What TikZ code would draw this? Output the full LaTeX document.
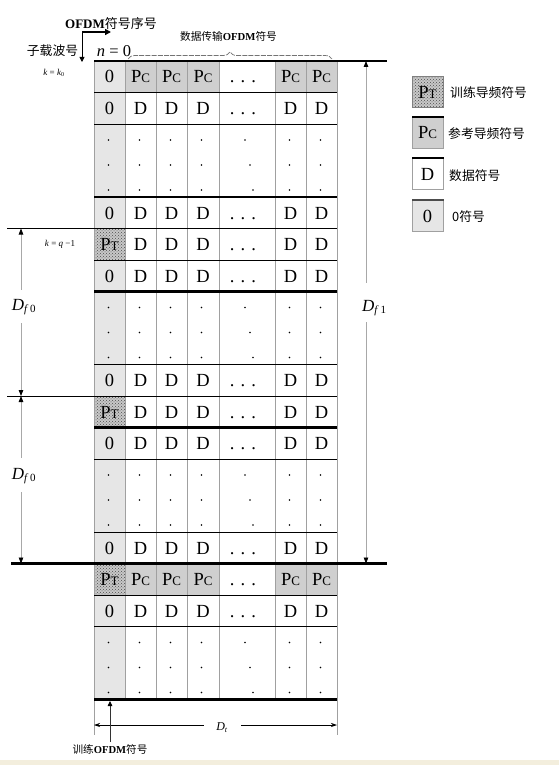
\documentclass[tikz,border=0pt]{standalone}
\usepackage{fontspec}
\setmainfont{Liberation Serif}
\newfontfamily\cjk{Noto Sans CJK SC}
\usetikzlibrary{patterns,arrows.meta,decorations.pathreplacing}
\definecolor{zerog}{HTML}{E6E6E6}
\definecolor{pcg}{HTML}{CFCFCF}
\definecolor{ptg}{HTML}{C8C8C8}
\definecolor{gridg}{HTML}{A0A0A0}
\definecolor{dimg}{HTML}{A8A8A8}
\definecolor{beigeband}{HTML}{F3EEDD}
\newcommand\symPT{P{\fontsize{13}{13}\selectfont T}}
\newcommand\symPC{P{\fontsize{13}{13}\selectfont C}}
\tikzset{
  cell/.style={font=\fontsize{18.5}{20}\selectfont, anchor=base, inner sep=0pt},
  vgrid/.style={gridg, line width=0.9pt},
  thinrule/.style={black, line width=0.9pt},
  thickrule/.style={black, line width=2.4pt},
  dimline/.style={dimg, line width=0.8pt},
  tipA/.tip={Triangle[length=6pt,width=4.5pt,black]},
  dimlabel/.style={font=\fontsize{17}{18}\selectfont, inner sep=0pt},
  cjklab/.style={font=\fontsize{12.8}{14}\selectfont\cjk, inner sep=0pt},
  legbox/.style={draw=gridg, line width=0.9pt, minimum width=31pt, minimum height=31pt, inner sep=0pt, font=\fontsize{18.5}{20}\selectfont},
  ptfill/.style={pattern=crosshatch dots, pattern color=black!70},
}
\begin{document}
\begin{tikzpicture}[x=1pt,y=-1pt]
\useasboundingbox (0,0) rectangle (559,765);
\fill[beigeband] (0,759.5) rectangle (559,765);
% ---------- fills ----------
\fill[zerog] (94,61) rectangle (125,699.5);
\foreach \t in {228.5,396,563.5}{
  \fill[ptg] (94,\t) rectangle (125,{\t+31.5});
  \fill[ptfill] (94,\t) rectangle (125,{\t+31.5});
}
\foreach \t in {61,563.5}{
  \foreach \a/\b in {125/219,275/337}
    \fill[pcg] (\a,\t) rectangle (\b,{\t+31.5});
}
% ---------- grid ----------
\foreach \x in {94,125,156,187,219,275,306,337}
  \draw[vgrid] (\x,61) -- (\x,699.5);
\draw[vgrid] (94,699.5) -- (94,735);
\draw[vgrid] (337,699.5) -- (337,735);
\foreach \y in {92.5,124,260,364.5,459,532,595,626.5}
  \draw[thinrule] (94,\y) -- (337,\y);
\draw[thinrule] (7,228.5) -- (337,228.5);
\draw[thinrule] (7,396) -- (337,396);
\foreach \y in {197,291.5,427.5,699.5}
  \draw[thickrule] (94,\y) -- (337,\y);
\draw[thickrule] (94,61) -- (387,61);
\draw[thickrule] (11,563.5) -- (387,563.5);
% ---------- cell texts ----------
\foreach \t/\a/\b [count=\i] in {61/0/\symPC, 92.5/0/D, 197/0/D, 228.5/\symPT/D, 260/0/D, 364.5/0/D, 396/\symPT/D, 427.5/0/D, 532/0/D, 563.5/\symPT/\symPC, 595/0/D}{
  \node[cell] (cell-\i-1) at (109.5,{\t+22}) {\a};
  \foreach \cx/\j in {140.5/2,171.5/3,203/4,290.5/6,321.5/7}
    \node[cell] (cell-\i-\j) at (\cx,{\t+22}) {\b};
  \node[cell] (cell-\i-5) at (243,{\t+22}) {.\,\,.\,\,.};
}
% ---------- vertical dots ----------
\foreach \d in {124,291.5,459,626.5}{
  \foreach \o in {16,41,66}{
    \foreach \cx in {108.5,139.5,170.5,201.5,289.5,320.5}
      \fill (\cx,{\d+\o}) circle (0.9);
  }
  \fill (245,{\d+16}) circle (0.9);
  \fill (250,{\d+41}) circle (0.9);
  \fill (253,{\d+66}) circle (0.9);
}
% ---------- top annotations ----------
\node[inner sep=0pt, font=\fontsize{13}{14}\selectfont] (seqlab) at (111,24) {\textbf{OFDM}{\cjk 符号序号}};
\coordinate (corner) at (82,32);
\coordinate (harrow) at (111,32);
\coordinate (varrow) at (82,62);
\draw[black, line width=1.8pt, -{Triangle[length=6pt,width=6pt,black]}] (corner) -- (harrow);
\draw[black, line width=0.8pt, -{Triangle[length=5pt,width=5pt,black]}] (corner) -- (varrow);
\node[cjklab] (subc) at (52.5,51) {子载波号};
\node[inner sep=0pt, font=\fontsize{9}{10}\selectfont] (kk0) at (54,73) {\textit{k} = \textit{k}\textsubscript{0}};
\node[inner sep=0pt, font=\fontsize{16.5}{17}\selectfont] (n0) at (114,51) {\textit{n} = 0};
\node[inner sep=0pt, font=\fontsize{10.7}{12}\selectfont] (datalab) at (228.5,36) {{\cjk 数据传输}\textbf{OFDM}{\cjk 符号}};
\coordinate (brL) at (128,59);
\coordinate (brR) at (332,59);
\draw[black!55, line width=0.7pt, dash pattern=on 5pt off 1.2pt, decorate, decoration={brace, amplitude=7pt}] (brL) -- (brR);
\node[inner sep=0pt, font=\fontsize{9}{10}\selectfont] (kq) at (60,244) {\textit{k} = \textit{q} \textminus 1};
% ---------- D_f0 ----------
\coordinate (a1) at (21,228.5); \coordinate (a2) at (21,290);
\coordinate (a3) at (21,323);   \coordinate (a4) at (21,396);
\coordinate (b1) at (21,396);   \coordinate (b2) at (21,458);
\coordinate (b3) at (21,492);   \coordinate (b4) at (21,563.5);
\draw[dimline, {tipA}-] (a1) -- (a2);
\draw[dimline, -{tipA}] (a3) -- (a4);
\draw[dimline, {tipA}-] (b1) -- (b2);
\draw[dimline, -{tipA}] (b3) -- (b4);
\node[dimlabel] (df0a) at (24,307) {\textit{D}\textsubscript{\fontsize{11}{11}\selectfont\textit{f}\,0}};
\node[dimlabel] (df0b) at (24,476) {\textit{D}\textsubscript{\fontsize{11}{11}\selectfont\textit{f}\,0}};
% ---------- D_f1 ----------
\coordinate (c1) at (366,61);  \coordinate (c2) at (366,283);
\coordinate (c3) at (366,322); \coordinate (c4) at (366,563.5);
\draw[dimline, {tipA}-] (c1) -- (c2);
\draw[dimline, -{tipA}] (c3) -- (c4);
\node[dimlabel, anchor=west] (df1) at (362,308) {\textit{D}\textsubscript{\fontsize{11}{11}\selectfont\textit{f}\,1}};
% ---------- D_t ----------
\coordinate (t1) at (94,725);  \coordinate (t2) at (204,725);
\coordinate (t3) at (241,725); \coordinate (t4) at (337,725);
\draw[black, line width=0.7pt, {Stealth[length=6pt,width=4pt,black]}-] (t1) -- (t2);
\draw[black, line width=0.7pt, -{Stealth[length=6pt,width=4pt,black]}] (t3) -- (t4);
\node[inner sep=0pt, font=\fontsize{12}{13}\selectfont\itshape] (dt) at (222,728) {D\textsubscript{\fontsize{8}{8}\selectfont t}};
% ---------- training symbol arrow ----------
\coordinate (trtop) at (110,701);
\coordinate (trbot) at (110,742);
\draw[black!80, line width=0.8pt, -{Triangle[length=5pt,width=4.5pt,black]}] (trbot) -- (trtop);
\node[inner sep=0pt, font=\fontsize{10.6}{12}\selectfont] (trlab) at (110,749) {{\cjk 训练}\textbf{OFDM}{\cjk 符号}};
% ---------- legend ----------
\fill[ptg] (412,76.5) rectangle (443,107);
\fill[ptfill] (412,76.5) rectangle (443,107);
\draw[gray, line width=0.8pt] (412,76.5) rectangle (443,107);
\node[inner sep=0pt, font=\fontsize{18.5}{20}\selectfont, anchor=base] (legPT) at (427.5,98.5) {\symPT};
\node[legbox, fill=pcg, anchor=north west] (legPC) at (412,117) {};
\node[cell] (legPCt) at (427.5,139) {\symPC};
\draw[thickrule] (legPC.north west) -- (legPC.north east);
\node[legbox, fill=white, anchor=north west] (legD) at (412,158) {};
\node[cell] (legDt) at (427.5,180) {D};
\draw[thickrule] (legD.north west) -- (legD.north east);
\node[legbox, fill=zerog, anchor=north west] (leg0) at (412,200) {};
\node[cell] (leg0t) at (427.5,222) {0};
\draw[black!70, line width=1.2pt] (leg0.north west) -- (leg0.north east);
\node[cjklab, anchor=west] (lt1) at (450,93) {训练导频符号};
\node[cjklab, anchor=west] (lt2) at (448,134) {参考导频符号};
\node[cjklab, anchor=west] (lt3) at (449,175.5) {数据符号};
\node[cjklab, anchor=west] (lt4) at (452,217) {0符号};
\end{tikzpicture}
\end{document}
